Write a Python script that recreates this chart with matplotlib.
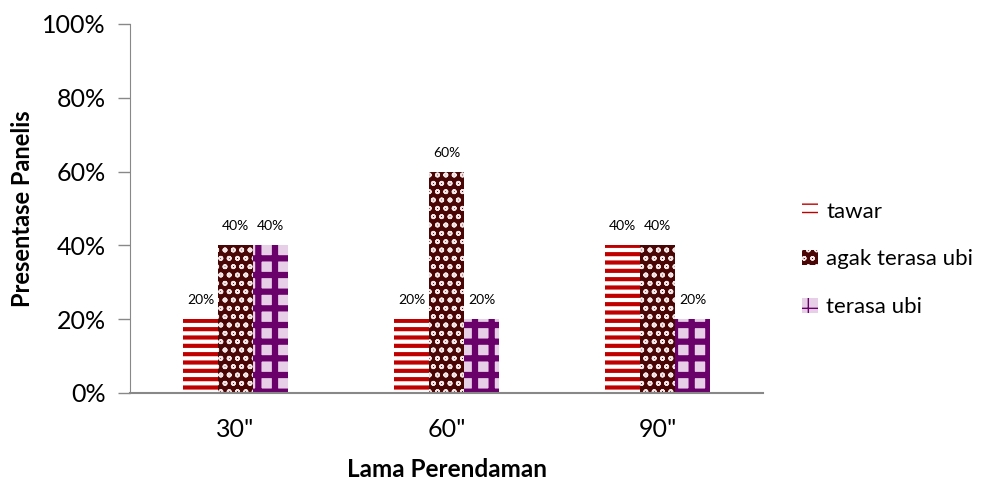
import matplotlib
matplotlib.use("Agg")
import matplotlib.pyplot as plt
import numpy as np
from matplotlib.ticker import FuncFormatter

categories = ['30"', '60"', '90"']
series_names = ["tawar", "agak terasa ubi", "terasa ubi"]
tawar = [20, 20, 40]
agak = [40, 60, 40]
terasa = [40, 20, 20]
yticks = [0, 20, 40, 60, 80, 100]

plt.rcParams['font.family'] = ['Lato', 'DejaVu Sans']

fig = plt.figure(figsize=(9.95, 4.8), dpi=100)
ax = fig.add_axes([0.1307, 0.1813, 0.6361, 0.7687])

x = np.arange(len(categories))
w = 0.166
styles = [
    dict(face="white", edge="#c00000", hatch="--", lw=3.0),
    dict(face="#4a0505", edge="#f2e6e6", hatch="oo", lw=1.2),
    dict(face="#e8cfe8", edge="#6a006a", hatch="+", lw=4.5),
]
data = [tawar, agak, terasa]
for i, (vals, st, name) in enumerate(zip(data, styles, series_names)):
    with plt.rc_context({'hatch.linewidth': st['lw']}):
        ax.bar(x + (i - 1) * w, vals, width=w, facecolor=st['face'],
               edgecolor=st['edge'], hatch=st['hatch'], linewidth=0,
               label=name)
    for xi, v in zip(x + (i - 1) * w, vals):
        ax.text(xi, v + 3.5, f"{v}%", ha="center", va="bottom", fontsize=10)

ax.set_xlim(-0.5, 2.5)
ax.set_ylim(0, 100)
ax.set_yticks(yticks)
ax.yaxis.set_major_formatter(FuncFormatter(lambda v, p: f"{int(v)}%"))
ax.set_xticks(x)
ax.set_xticklabels(categories)
ax.tick_params(axis='y', labelsize=18, length=8.5, color="#888888", width=1, pad=9)
ax.tick_params(axis='x', labelsize=18, length=0, pad=18)
for s in ['top', 'right']:
    ax.spines[s].set_visible(False)
ax.spines['left'].set_color("#888888")
ax.spines['bottom'].set_color("#888888")
ax.spines['bottom'].set_linewidth(1.5)

ax.set_ylabel("Presentase Panelis", fontsize=17, fontweight="bold", labelpad=6)
ax.set_xlabel("Lama Perendaman", fontsize=17.5, fontweight="bold", labelpad=12)

leg = ax.legend(loc="center left", bbox_to_anchor=(1.03, 0.362), frameon=False,
                fontsize=16, handlelength=0.7, handleheight=0.7,
                labelspacing=1.25, handletextpad=0.4)

fig.savefig("out.png", dpi=100)
